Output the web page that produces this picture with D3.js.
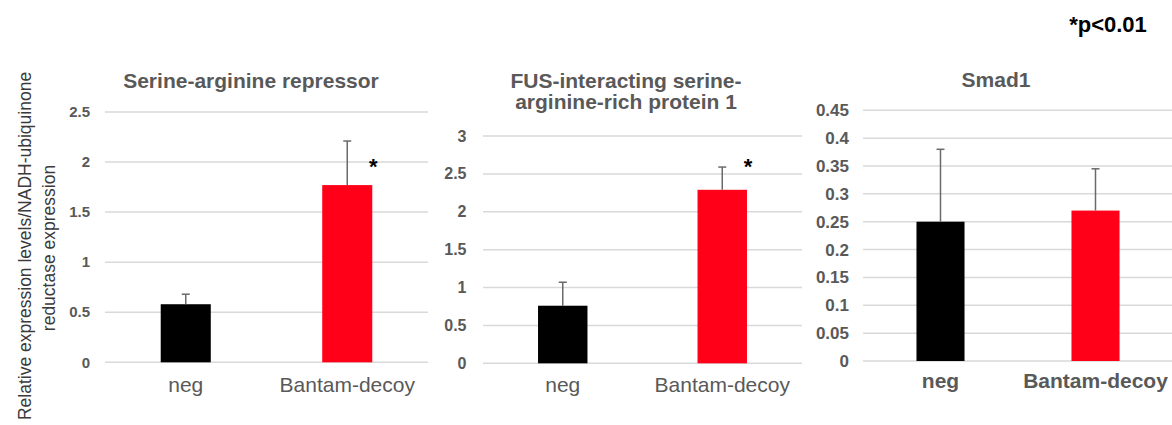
<!DOCTYPE html>
<html>
<head>
<meta charset="utf-8">
<script src="https://cdn.jsdelivr.net/npm/d3@7"></script>
<style>
  html, body { margin: 0; padding: 0; background: #fff; }
  svg { display: block; font-family: "Liberation Sans", Arial, Helvetica, sans-serif; }
</style>
</head>
<body>
<svg id="chart" width="1172" height="425"></svg>
<script>
// ---- data ----
const categories = ["neg", "Bantam-decoy"];
const barColors = ["#000000", "#ff0018"];

const serTitle = ["Serine-arginine repressor"];
const serValues = [0.58, 1.77];
const serErrors = [0.10, 0.44];
const serSignificant = [false, true];
const serTicks = ["0", "0.5", "1", "1.5", "2", "2.5"];

const fusTitle = ["FUS-interacting serine-", "arginine-rich protein 1"];
const fusValues = [0.76, 2.29];
const fusErrors = [0.31, 0.30];
const fusSignificant = [false, true];
const fusTicks = ["0", "0.5", "1", "1.5", "2", "2.5", "3"];

const smadTitle = ["Smad1"];
const smadValues = [0.25, 0.27];
const smadErrors = [0.13, 0.075];
const smadSignificant = [false, false];
const smadTicks = ["0", "0.05", "0.1", "0.15", "0.2", "0.25", "0.3", "0.35", "0.4", "0.45"];

const yAxisTitle = ["Relative expression levels/NADH-ubiquinone", "reductase expression"];
const noteText = "*p<0.01";

// ---- layout ----
const panels = [
  { title: serTitle, values: serValues, errors: serErrors, sig: serSignificant, ticks: serTicks,
    x0: 105, x1: 428, yBottom: 362.3, yTop: 112, tickRight: 90, tickSize: 15,
    titleX: 251, titleY: 88, labelWeight: "normal", labelY: 391.5, starDy: -11 },
  { title: fusTitle, values: fusValues, errors: fusErrors, sig: fusSignificant, ticks: fusTicks,
    x0: 483, x1: 802, yBottom: 363.3, yTop: 136, tickRight: 466.5, tickSize: 16,
    titleX: 626, titleY: 88, labelWeight: "normal", labelY: 392, starDy: -16 },
  { title: smadTitle, values: smadValues, errors: smadErrors, sig: smadSignificant, ticks: smadTicks,
    x0: 863, x1: 1173, yBottom: 361, yTop: 110.3, tickRight: 849, tickSize: 17,
    titleX: 996, titleY: 87, labelWeight: "bold", labelY: 388, starDy: -16 }
];

const svg = d3.select("#chart");
const gray = "#595959";

panels.forEach(p => {
  const tickVals = p.ticks.map(Number);
  const maxV = d3.max(tickVals);
  const y = d3.scaleLinear().domain([0, maxV]).range([p.yBottom, p.yTop]);
  const x = d3.scaleBand().domain(categories).range([p.x0, p.x1])
    .paddingInner(0.69).paddingOuter(0.345);
  const g = svg.append("g");

  // gridlines
  g.selectAll("line.grid").data(tickVals).join("line")
    .attr("class", "grid")
    .attr("x1", p.x0).attr("x2", p.x1)
    .attr("y1", d => y(d)).attr("y2", d => y(d))
    .attr("stroke", "#d9d9d9").attr("stroke-width", 1.5);

  // y tick labels
  g.selectAll("text.tick").data(p.ticks).join("text")
    .attr("class", "tick")
    .attr("x", p.tickRight).attr("y", d => y(+d))
    .attr("dy", "0.35em")
    .attr("text-anchor", "end")
    .attr("font-size", p.tickSize).attr("font-weight", "bold")
    .attr("fill", gray)
    .text(d => d);

  // bars
  g.selectAll("rect.bar").data(p.values).join("rect")
    .attr("class", "bar")
    .attr("x", (d, i) => x(categories[i]))
    .attr("width", x.bandwidth())
    .attr("y", d => y(d))
    .attr("height", d => y(0) - y(d))
    .attr("fill", (d, i) => barColors[i]);

  // error bars (upper only)
  const capW = 8;
  p.values.forEach((v, i) => {
    const cx = x(categories[i]) + x.bandwidth() / 2;
    const top = y(v + p.errors[i]);
    g.append("line").attr("x1", cx).attr("x2", cx)
      .attr("y1", y(v)).attr("y2", top)
      .attr("stroke", "#6a6a6a").attr("stroke-width", 1.5);
    g.append("line").attr("x1", cx - capW / 2).attr("x2", cx + capW / 2)
      .attr("y1", top).attr("y2", top)
      .attr("stroke", "#6a6a6a").attr("stroke-width", 1.5);
    if (p.sig[i]) {
      g.append("text")
        .attr("x", x(categories[i]) + x.bandwidth() + 1)
        .attr("y", y(v) + p.starDy)
        .attr("text-anchor", "middle")
        .attr("font-size", 22).attr("font-weight", "bold")
        .attr("fill", "#000")
        .text("*");
    }
  });

  // category labels
  g.selectAll("text.cat").data(categories).join("text")
    .attr("class", "cat")
    .attr("x", d => x(d) + x.bandwidth() / 2)
    .attr("y", p.labelY)
    .attr("text-anchor", "middle")
    .attr("font-size", 21).attr("font-weight", p.labelWeight)
    .attr("fill", gray)
    .text(d => d);

  // title (first line at titleY, following lines below)
  g.selectAll("text.title").data(p.title).join("text")
    .attr("class", "title")
    .attr("x", p.titleX)
    .attr("y", (d, i) => p.titleY + i * 21)
    .attr("text-anchor", "middle")
    .attr("font-size", 21).attr("font-weight", "bold")
    .attr("fill", gray)
    .text(d => d);
});

// y axis title (rotated, two lines)
svg.append("text")
  .attr("transform", "translate(31,246) rotate(-90)")
  .attr("text-anchor", "middle")
  .attr("font-size", 17.5)
  .attr("fill", "#3a3a3a")
  .text(yAxisTitle[0]);
svg.append("text")
  .attr("transform", "translate(55,248) rotate(-90)")
  .attr("text-anchor", "middle")
  .attr("font-size", 17.5)
  .attr("fill", "#3a3a3a")
  .text(yAxisTitle[1]);

// significance note
svg.append("text")
  .attr("x", 1108).attr("y", 31.5)
  .attr("text-anchor", "middle")
  .attr("font-size", 22).attr("font-weight", "bold")
  .attr("fill", "#000")
  .text(noteText);
</script>
</body>
</html>
